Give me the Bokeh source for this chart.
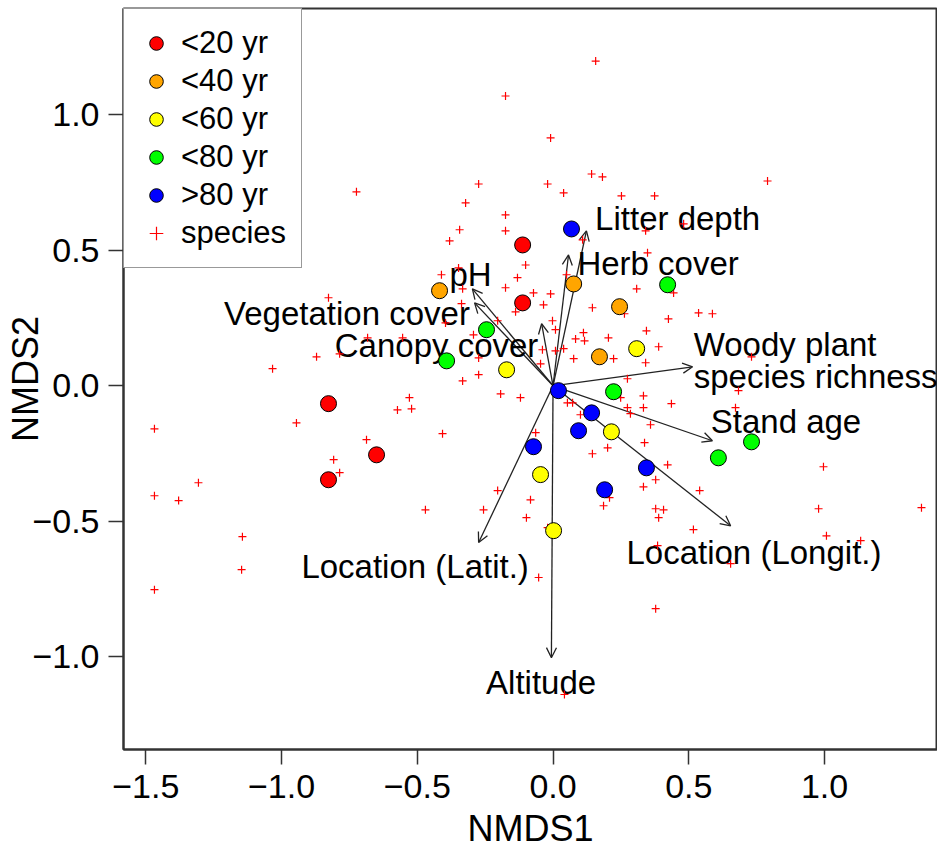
from bokeh.plotting import figure
from bokeh.models import (Range1d, FixedTicker, CustomJSTickFormatter, Arrow, OpenHead,
                          ColumnDataSource, Legend, LegendItem)
from bokeh.core.properties import value
from bokeh.embed import file_html
from bokeh.resources import INLINE

FONT = "Liberation Sans"

# ---- site scores by stand age class ----
age20_x = [-0.112, -0.112, -0.827, -0.650, -0.827]
age20_y = [0.520, 0.306, -0.066, -0.255, -0.347]
age40_x = [-0.418, 0.076, 0.245, 0.171]
age40_y = [0.351, 0.376, 0.292, 0.107]
age60_x = [-0.171, 0.308, 0.215, -0.046, 0.002]
age60_y = [0.059, 0.137, -0.170, -0.328, -0.535]
age80_x = [0.422, -0.245, -0.392, 0.223, 0.609, 0.731]
age80_y = [0.373, 0.207, 0.092, -0.022, -0.266, -0.207]
old_x = [0.068, 0.020, 0.142, 0.094, -0.072, 0.344, 0.190]
old_y = [0.579, -0.018, -0.100, -0.166, -0.225, -0.303, -0.384]

# ---- species scores ----
sp_x = [0.157, -0.175, -0.009, 0.790, -0.724, -0.274, -0.020, 0.142, 0.182, 0.039,
        0.252, 0.374, -0.322, -0.175, -0.344, -0.175, -0.381, 0.109, 0.341, 0.481,
        0.348, -0.101, -0.411, -0.348, -0.131, 0.050, -0.333, -0.175, -0.072, -0.009,
        -0.337, -0.138, -0.035, 0.145, 0.308, 0.444, 0.263, 0.425, 0.536, 0.587,
        -0.396, -0.204, -0.002, 0.009, -0.293, 0.112, 0.116, 0.083, 0.204, 0.344,
        0.039, -0.039, 0.009, -0.274, 0.076, 0.223, 0.389, 0.341, -0.046, -0.333,
        -0.274, 0.274, -0.193, -0.120, 0.053, 0.072, 0.249, 0.333, 0.333, 0.436,
        0.274, 0.285, 0.101, 0.359, -0.064, -0.407, 0.337, 0.145, 0.201, 0.422,
        0.378, 0.333, 0.208, -0.204, -0.083, 0.186, -0.470, -0.256, -0.098, 0.378,
        0.407, 0.389, -0.020, 0.517, -0.053, 0.378, 0.385, 0.042, 0.731, 0.683,
        0.672, 0.996, 0.540, 0.978, 1.357, 1.007, 1.133, 0.654, -0.827, -0.871,
        -1.033, -0.683, -0.554, -0.786, -0.945, -1.468, -0.529, -0.573, -0.521, -0.687,
        -0.808, -0.786, -1.306, -1.468, -1.379, -1.144, -1.147, -1.468]
sp_y = [1.199, 1.070, 0.915, 0.756, 0.716, 0.745, 0.745, 0.782, 0.771, 0.712,
        0.701, 0.701, 0.675, 0.631, 0.576, 0.572, 0.535, 0.539, 0.572, 0.598,
        0.491, 0.446, 0.410, 0.435, 0.399, 0.410, 0.358, 0.362, 0.343, 0.339,
        0.303, 0.273, 0.299, 0.288, 0.358, 0.343, 0.266, 0.247, 0.269, 0.266,
        0.232, 0.240, 0.240, 0.207, 0.188, 0.196, 0.166, 0.173, 0.177, 0.203,
        0.137, 0.133, 0.129, 0.103, 0.100, 0.100, 0.144, 0.085, 0.081, 0.018,
        0.041, 0.026, -0.030, -0.044, -0.063, -0.063, -0.044, -0.037, -0.081, -0.066,
        -0.081, -0.103, -0.107, -0.144, -0.173, -0.177, -0.210, -0.251, -0.229, -0.292,
        -0.347, -0.373, -0.413, -0.387, -0.421, -0.443, -0.458, -0.458, -0.487, -0.454,
        -0.458, -0.487, -0.524, -0.531, -0.708, -0.823, -0.590, -1.140, 0.107, -0.018,
        -0.081, -0.299, -0.387, -0.454, -0.450, -0.554, -0.572, -0.657, 0.325, 0.107,
        0.063, 0.177, 0.177, 0.118, -0.137, -0.159, -0.044, -0.089, -0.085, -0.199,
        -0.273, -0.321, -0.358, -0.406, -0.424, -0.557, -0.679, -0.753]

# ---- environmental vectors (envfit) ----
env_names = ["Litter depth", "Herb cover", "pH", "Vegetation cover", "Canopy cover",
             "Woody plant species richness", "Stand age", "Location (Longit.)",
             "Location (Latit.)", "Altitude"]
env_x = [0.123, 0.057, -0.297, -0.289, -0.042, 0.514, 0.587, 0.654, -0.274, -0.006]
env_y = [0.572, 0.483, 0.358, 0.306, 0.229, 0.070, -0.203, -0.517, -0.579, -1.004]

# vector label anchors
lab_text = ["Litter depth", "Herb cover", "pH", "Vegetation cover", "Canopy cover",
            "Stand age", "Location (Longit.)", "Location (Latit.)", "Altitude"]
lab_x = [0.459, 0.387, -0.304, -0.759, -0.429, 0.858, 0.740, -0.508, -0.044]
lab_y = [0.618, 0.450, 0.410, 0.268, 0.148, -0.133, -0.616, -0.666, -1.094]
woody_text = ["Woody plant", "species richness"]
woody_x = [0.518, 0.518]
woody_y = [0.151, 0.033]

xticks = [-1.5, -1.0, -0.5, 0.0, 0.5, 1.0]
yticks = [-1.0, -0.5, 0.0, 0.5, 1.0]

p = figure(width=937, height=859, output_backend="svg", toolbar_location=None,
           x_range=Range1d(-1.582, 1.416), y_range=Range1d(-1.343, 1.393),
           min_border_left=123, min_border_right=0, min_border_top=8, min_border_bottom=110,
           x_axis_label="NMDS1", y_axis_label="NMDS2")
p.grid.visible = False
p.outline_line_color = "#333333"
p.outline_line_width = 2
p.background_fill_color = "white"
p.border_fill_color = "white"

fmt = CustomJSTickFormatter(code="return (tick < 0 ? '\u2212' : '') + Math.abs(tick).toFixed(1);")
p.xaxis.ticker = FixedTicker(ticks=xticks)
p.yaxis.ticker = FixedTicker(ticks=yticks)
for ax in (p.xaxis[0], p.yaxis[0]):
    ax.formatter = fmt
    ax.axis_line_color = "#333333"
    ax.axis_line_width = 2
    ax.major_tick_line_color = "#333333"
    ax.major_tick_line_width = 1.5
    ax.major_tick_out = 15
    ax.major_tick_in = 0
    ax.minor_tick_line_color = None
    ax.major_label_text_font = FONT
    ax.major_label_text_font_size = "34px"
    ax.major_label_text_color = "black"
    ax.axis_label_text_font = FONT
    ax.axis_label_text_font_size = "36px"
    ax.axis_label_text_font_style = "normal"
    ax.axis_label_text_color = "black"
p.xaxis.major_label_standoff = 10
p.xaxis.axis_label_standoff = 7
p.yaxis.major_label_standoff = 9
p.yaxis.major_label_orientation = "horizontal"
p.yaxis.axis_label_standoff = -17

# arrows
arr_src = ColumnDataSource(dict(x0=[0.0] * len(env_x), y0=[0.0] * len(env_y), x1=env_x, y1=env_y))
arrows = Arrow(source=arr_src, x_start="x0", y_start="y0", x_end="x1", y_end="y1",
               line_color="#222222", line_width=1.3,
               end=OpenHead(size=10, line_color="#222222", line_width=1.3))
arrows.level = "underlay"
p.add_layout(arrows)

# vector labels
p.text(x=lab_x, y=lab_y, text=lab_text, text_font=value(FONT), text_font_size="33px",
       text_align="center", text_baseline="middle", text_color="black")
p.text(x=woody_x, y=woody_y, text=woody_text, text_font=value(FONT), text_font_size="33px",
       text_align="left", text_baseline="middle", text_color="black")

# species
r_sp = p.scatter(sp_x, sp_y, marker="cross", size=8, line_color="#FF0000", line_width=1.2)

# sites
def sites(xs, ys, color):
    return p.scatter(xs, ys, marker="circle", size=16, fill_color=color,
                     line_color="black", line_width=1)

r1 = sites(age20_x, age20_y, "#FF0000")
r2 = sites(age40_x, age40_y, "#FFA500")
r3 = sites(age60_x, age60_y, "#FFFF00")
r4 = sites(age80_x, age80_y, "#00FF00")
r5 = sites(old_x, old_y, "#0000FF")

legend = Legend(items=[LegendItem(label="<20 yr", renderers=[r1]),
                       LegendItem(label="<40 yr", renderers=[r2]),
                       LegendItem(label="<60 yr", renderers=[r3]),
                       LegendItem(label="<80 yr", renderers=[r4]),
                       LegendItem(label=">80 yr", renderers=[r5]),
                       LegendItem(label="species", renderers=[r_sp])],
                location="top_left")
legend.margin = 0
legend.padding = 15
legend.spacing = 0
legend.glyph_width = 34
legend.glyph_height = 38
legend.label_height = 38
legend.label_standoff = 8
legend.label_text_font = FONT
legend.label_text_font_size = "31px"
legend.label_text_color = "black"
legend.border_line_color = "#333333"
legend.border_line_width = 1.5
legend.background_fill_color = "white"
legend.background_fill_alpha = 1.0
p.add_layout(legend)

open("out.html", "w").write(file_html(p, INLINE))
